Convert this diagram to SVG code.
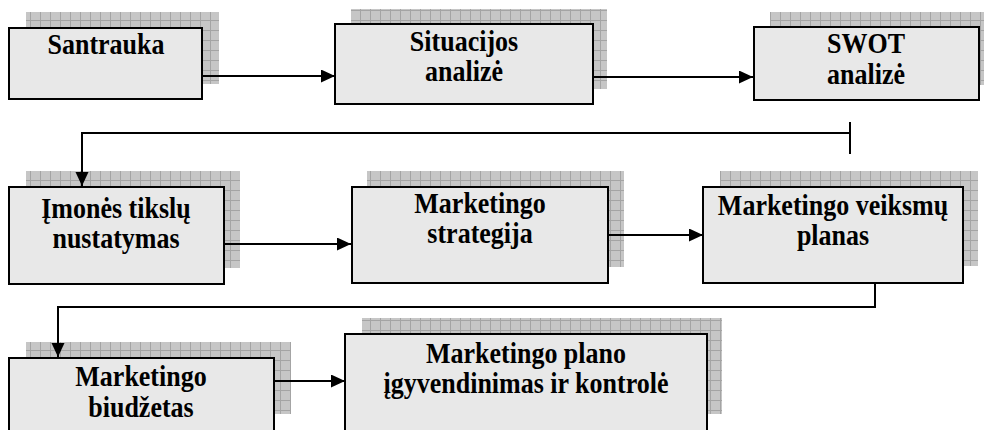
<svg xmlns="http://www.w3.org/2000/svg" width="984" height="430" viewBox="0 0 984 430">
  <style>
    .shadow { fill: url(#grid); }
    .box { fill: #e8e8e8; stroke: #000; stroke-width: 2; }
    .label { font-family: "Liberation Serif", "DejaVu Serif", "Noto Serif", serif; font-weight: bold; font-size: 26px; fill: #000; text-anchor: middle; }
    .link { fill: none; stroke: #000; stroke-width: 2; }
  </style>
  <defs>
    <pattern id="grid" width="10" height="10" patternUnits="userSpaceOnUse">
      <rect width="10" height="10" fill="#c6c6c6"/>
      <path d="M0.5,0 V10 M0,0.5 H10" stroke="#a4a4a4" stroke-width="1"/>
    </pattern>
    <marker id="head" markerUnits="userSpaceOnUse" markerWidth="15" markerHeight="14" refX="14" refY="6.5" orient="auto">
      <path d="M0,0 L14,6.5 L0,13 Z" fill="#000"/>
    </marker>
  </defs>

  <!-- labels are set in a slightly tall bold serif: scale(1,1.12) about the baseline -->
  <g id="santrauka">
    <rect class="shadow" x="26" y="12" width="193" height="72"/>
    <rect class="box" x="9" y="28" width="193" height="71"/>
    <text class="label" transform="translate(106,54) scale(1,1.12)">Santrauka</text>
  </g>

  <g id="situacijos-analize">
    <rect class="shadow" x="351" y="9" width="256" height="80"/>
    <rect class="box" x="335" y="24" width="258" height="80"/>
    <text class="label" transform="translate(464,51) scale(1,1.12)">Situacijos</text>
    <text class="label" transform="translate(464,81) scale(1,1.12)">analizė</text>
  </g>

  <g id="swot-analize">
    <rect class="shadow" x="770" y="12" width="225" height="73"/>
    <rect class="box" x="754" y="27" width="225" height="73"/>
    <text class="label" transform="translate(866,53) scale(1,1.12)">SWOT</text>
    <text class="label" transform="translate(866,84) scale(1,1.12)">analizė</text>
  </g>

  <g id="imones-tikslu-nustatymas">
    <rect class="shadow" x="26" y="171" width="214" height="97"/>
    <rect class="box" x="9" y="187" width="215" height="97"/>
    <text class="label" transform="translate(116,218) scale(1,1.12)">Įmonės tikslų</text>
    <text class="label" transform="translate(116,248) scale(1,1.12)">nustatymas</text>
  </g>

  <g id="marketingo-strategija">
    <rect class="shadow" x="367" y="171" width="257" height="96"/>
    <rect class="box" x="352" y="187" width="256" height="96"/>
    <text class="label" transform="translate(480,213) scale(1,1.12)">Marketingo</text>
    <text class="label" transform="translate(480,243) scale(1,1.12)">strategija</text>
  </g>

  <g id="marketingo-veiksmu-planas">
    <rect class="shadow" x="720" y="171" width="258" height="95"/>
    <rect class="box" x="703" y="187" width="260" height="96"/>
    <text class="label" transform="translate(833,215) scale(1,1.12)">Marketingo veiksmų</text>
    <text class="label" transform="translate(833,245) scale(1,1.12)">planas</text>
  </g>

  <g id="marketingo-biudzetas">
    <rect class="shadow" x="26" y="342" width="265" height="72"/>
    <rect class="box" x="9" y="358" width="265" height="90"/>
    <text class="label" transform="translate(141,386) scale(1,1.12)">Marketingo</text>
    <text class="label" transform="translate(141,417) scale(1,1.12)">biudžetas</text>
  </g>

  <g id="plano-igyvendinimas">
    <rect class="shadow" x="362" y="318" width="360" height="96"/>
    <rect class="box" x="345" y="334" width="362" height="110"/>
    <text class="label" transform="translate(526,363) scale(1,1.12)">Marketingo plano</text>
    <text class="label" transform="translate(526,393) scale(1,1.12)">įgyvendinimas ir kontrolė</text>
  </g>

  <!-- Connectors, drawn over the patterned shadows -->
  <g id="connectors">
    <line class="link" marker-end="url(#head)" x1="202" y1="76" x2="335" y2="76"/>
    <line class="link" marker-end="url(#head)" x1="593" y1="77" x2="753" y2="77"/>
    <line class="link" x1="850" y1="122" x2="850" y2="154"/>
    <polyline class="link" marker-end="url(#head)" points="850,133 82,133 82,186"/>
    <line class="link" marker-end="url(#head)" x1="224" y1="244" x2="351" y2="244"/>
    <line class="link" marker-end="url(#head)" x1="608" y1="235" x2="703" y2="235"/>
    <polyline class="link" marker-end="url(#head)" points="875,283 875,307 58,307 58,357"/>
    <line class="link" marker-end="url(#head)" x1="274" y1="381" x2="345" y2="381"/>
  </g>
</svg>
